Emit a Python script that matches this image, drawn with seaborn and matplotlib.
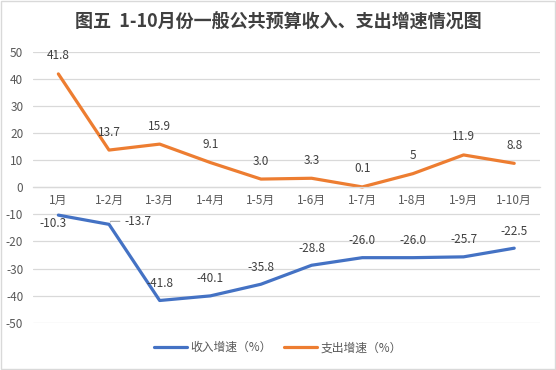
import numpy as np
import pandas as pd
import matplotlib
matplotlib.use("Agg")
import matplotlib.pyplot as plt
import seaborn as sns
from matplotlib.lines import Line2D
from matplotlib.patches import Rectangle

# data
months = ['1月', '1-2月', '1-3月', '1-4月', '1-5月', '1-6月', '1-7月', '1-8月', '1-9月', '1-10月']
income = [-10.3, -13.7, -41.8, -40.1, -35.8, -28.8, -26.0, -26.0, -25.7, -22.5]
spend = [41.8, 13.7, 15.9, 9.1, 3.0, 3.3, 0.1, 5, 11.9, 8.8]
income_txt = ['-10.3', '-13.7', '-41.8', '-40.1', '-35.8', '-28.8', '-26.0', '-26.0', '-25.7', '-22.5']
spend_txt = ['41.8', '13.7', '15.9', '9.1', '3.0', '3.3', '0.1', '5', '11.9', '8.8']
series = ['收入增速（%）', '支出增速（%）']
colors = ['#4472C4', '#ED7D31']

sns.set_theme(style='white')
plt.rcParams['font.family'] = ['Noto Sans CJK SC', 'DejaVu Sans']
plt.rcParams['axes.unicode_minus'] = False

df = pd.DataFrame({
    '月份': months * 2,
    'idx': list(range(len(months))) * 2,
    '增速': income + spend,
    '系列': [series[0]] * len(months) + [series[1]] * len(months),
})

fig = plt.figure(figsize=(5.56, 3.70), dpi=100)
fig.patch.set_facecolor('white')
ax = fig.add_axes([0.0594, 0.1278, 0.911, 0.7325])

sns.lineplot(data=df, x='idx', y='增速', hue='系列', palette=colors,
             linewidth=2.3, sort=False, ax=ax, legend=False)

ax.set_xlim(-0.5, len(months) - 0.5)
ax.set_ylim(-50, 50)
ax.set_yticks(np.arange(-50, 51, 10))
ax.set_xticks(range(len(months)))
ax.set_xticklabels(months)
ax.grid(axis='y', color='#d9d9d9', linewidth=0.9)
ax.grid(axis='x', visible=False)
for s in ['top', 'right', 'left']:
    ax.spines[s].set_visible(False)
ax.spines['bottom'].set_position(('data', 0))
ax.spines['bottom'].set_color('#d9d9d9')
ax.spines['bottom'].set_linewidth(0.9)
ax.tick_params(axis='y', length=0, pad=7, labelsize=8.5, labelcolor='#595959')
ax.tick_params(axis='x', length=0, pad=5, labelsize=8.5, labelcolor='#595959')
ax.set_xlabel('')
ax.set_ylabel('')

# data labels
lab_kw = dict(textcoords='offset pixels', ha='center', va='center',
              fontsize=8.5, color='#404040')
for i, (v, t) in enumerate(zip(spend, spend_txt)):
    ax.annotate(t, (i, v), xytext=(0, 18), **lab_kw)
for i, (v, t) in enumerate(zip(income, income_txt)):
    if i == 0:
        ax.annotate(t, (i, v), xytext=(-5, -8), **lab_kw)
    elif i == 1:
        ax.annotate(t, (i, v), xytext=(29, 3),
                    arrowprops=dict(arrowstyle='-', color='#a6a6a6', lw=0.8,
                                    connectionstyle='angle,angleA=0,angleB=60,rad=0',
                                    shrinkA=1, shrinkB=2), **lab_kw)
    else:
        ax.annotate(t, (i, v), xytext=(0, 17), **lab_kw)

fig.text(0.5, 0.94, '图五  1-10月份一般公共预算收入、支出增速情况图',
         ha='center', va='center', fontsize=13, fontweight='bold', color='#404040')

handles = [Line2D([0], [0], color=c, lw=2.3) for c in colors]
fig.legend(handles, series, loc='center', bbox_to_anchor=(0.5, 0.06), ncol=2,
           frameon=False, fontsize=8.5, labelcolor='#595959',
           handlelength=2.8, handletextpad=0.3, columnspacing=1.0)

fig.patches.append(Rectangle((0.001, 0.002), 0.997, 0.996, transform=fig.transFigure,
                             fill=False, edgecolor='#d9d9d9', linewidth=1))

fig.savefig('out.png', dpi=100)
